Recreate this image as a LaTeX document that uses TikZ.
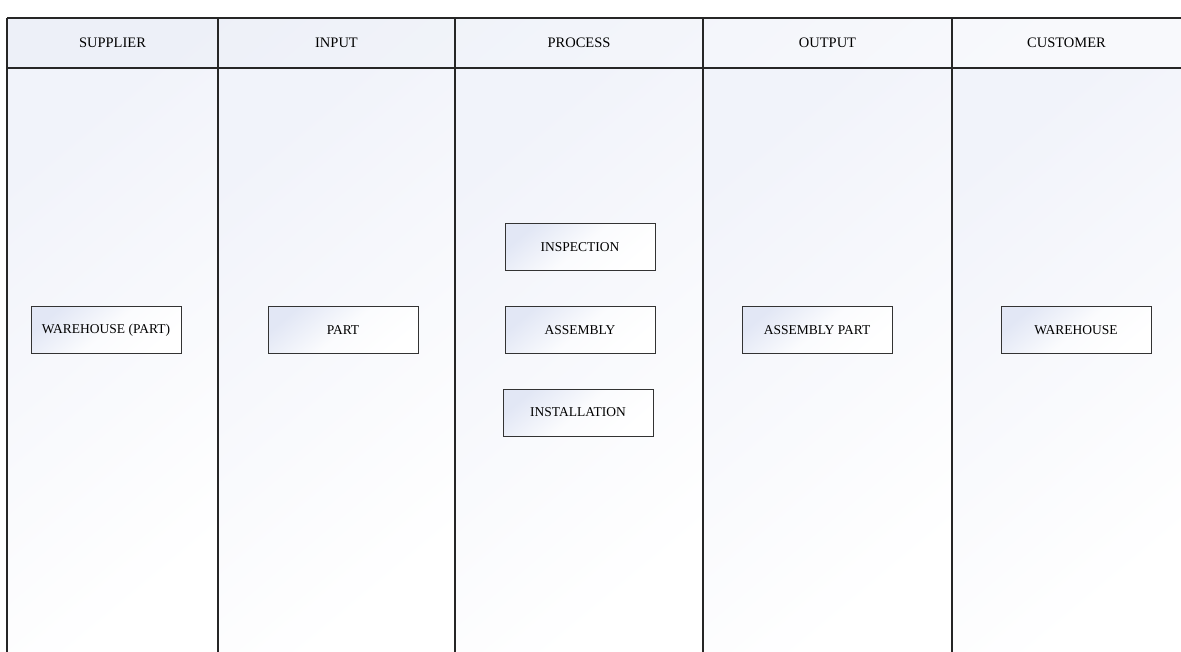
\documentclass[tikz,border=0pt]{standalone}
\usepackage{fontspec}
\setmainfont{Liberation Serif}
\usetikzlibrary{positioning}
\definecolor{lanetint}{HTML}{F1F3FA}
\definecolor{headtint}{HTML}{EDF0F8}
\definecolor{boxtint}{HTML}{E2E7F5}
\begin{document}
\begin{tikzpicture}[x=1pt,y=-1pt,
		lane/.style={top color=lanetint, bottom color=white, shading angle=40, draw=none},
		head/.style={top color=headtint, bottom color=white!60!headtint, shading angle=40, draw=none},
		headtext/.style={font=\fontsize{14.5}{16}\selectfont},
		stepbox/.style={draw=black!80, line width=1pt, top color=boxtint, bottom color=white, middle color=white!85!boxtint, shading angle=40,
			minimum width=150pt, minimum height=47pt, inner sep=0pt, font=\fontsize{13.5}{15}\selectfont},
		border/.style={line width=1.6pt, black!85}]
				\useasboundingbox (0,0) rectangle (1181,652);
				% lanes
				\shade[lane] (7,68) rectangle (218,652);
				\shade[lane] (218,68) rectangle (455,652);
				\shade[lane] (455,68) rectangle (703,652);
				\shade[lane] (703,68) rectangle (952,652);
				\shade[lane] (952,68) rectangle (1181,652);
				\shade[head] (7,18) rectangle (1181,68);
				% grid lines
				\draw[border] (7,18) -- (1181,18);
				\draw[border] (7,68) -- (1181,68);
				\draw[border] (7,18) -- (7,652);
				\draw[border] (218,18) -- (218,652);
				\draw[border] (455,18) -- (455,652);
				\draw[border] (703,18) -- (703,652);
				\draw[border] (952,18) -- (952,652);
				% headings
				\node (hsup) [headtext] at (112.5,43) {SUPPLIER};
				\node (hin) [headtext] at (336.5,43) {INPUT};
				\node (hproc) [headtext] at (579,43) {PROCESS};
				\node (hout) [headtext] at (827.5,43) {OUTPUT};
				\node (hcust) [headtext] at (1066.5,43) {CUSTOMER};
				% boxes
				\node (wpart) [stepbox] at (106,330.5) {WAREHOUSE (PART)};
				\node (part) [stepbox] at (343,330.5) {PART};
				\node (asm) [stepbox] at (580,330.5) {ASSEMBLY};
				\node (insp) [stepbox, above=35pt of asm] {INSPECTION};
				\node (inst) [stepbox, below=34pt of asm, xshift=-2pt] {INSTALLATION};
				\node (asmpart) [stepbox] at (817,330.5) {ASSEMBLY PART};
				\node (ware) [stepbox] at (1076,330.5) {WAREHOUSE};
			\end{tikzpicture}
\end{document}
